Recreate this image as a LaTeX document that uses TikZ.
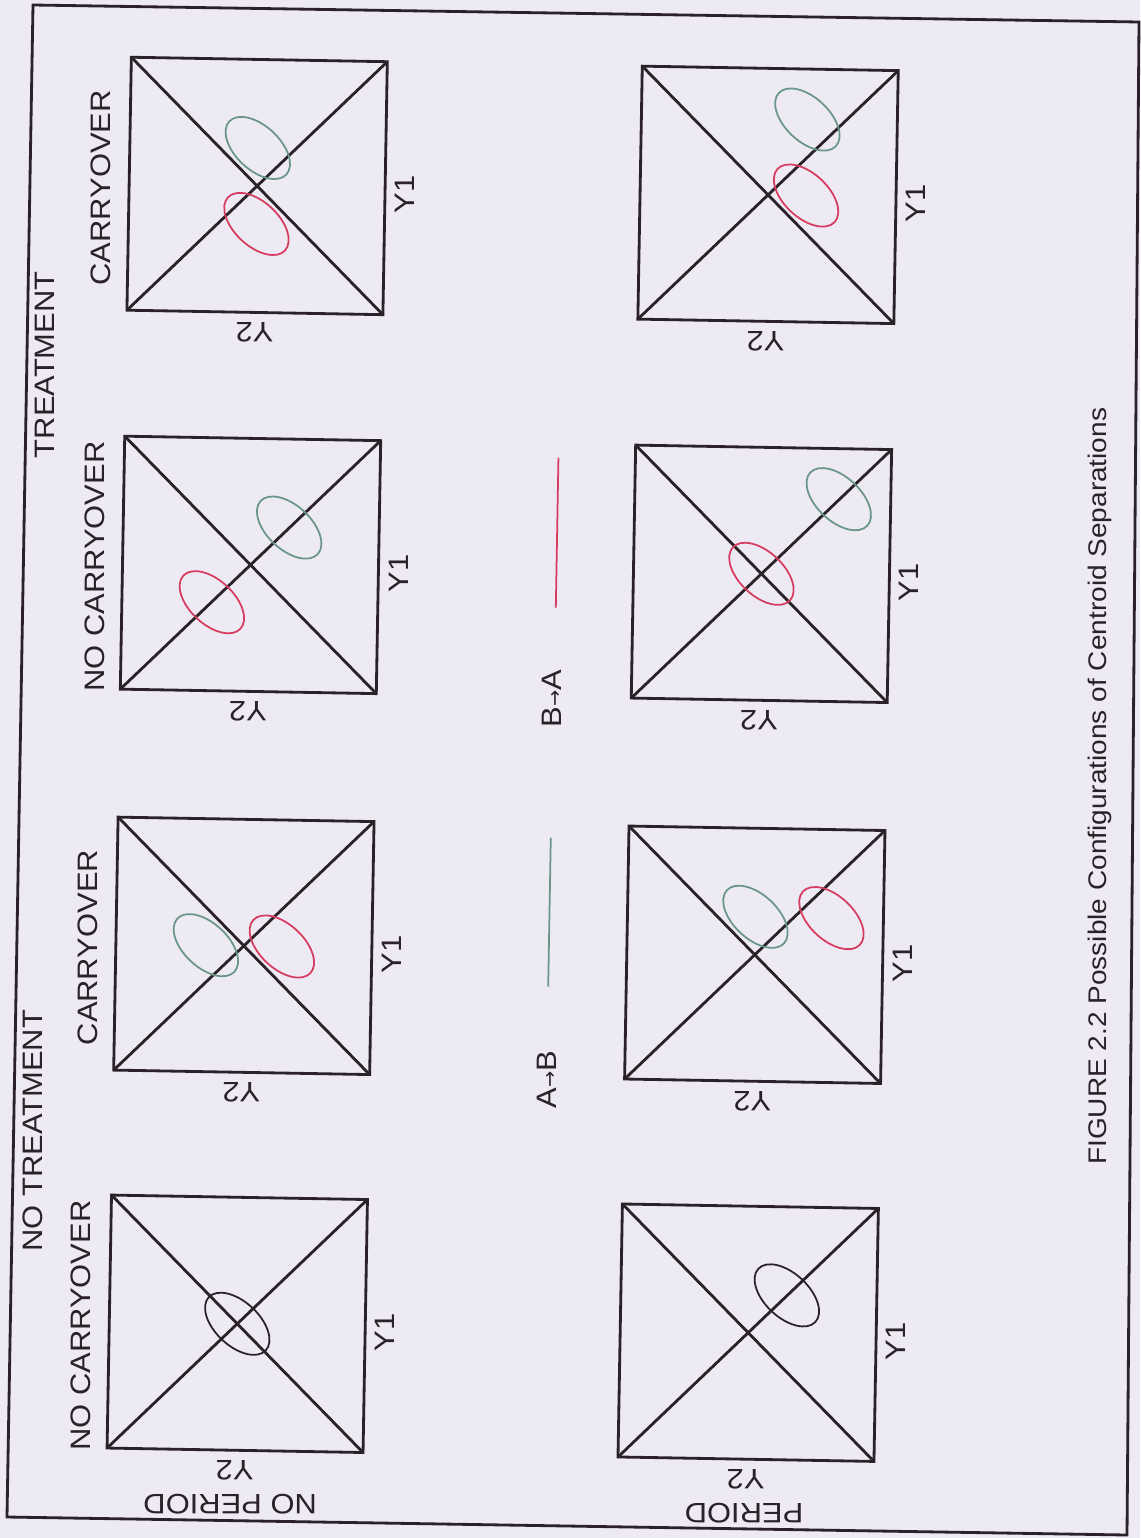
\documentclass[tikz,border=0pt]{standalone}
\usepackage{fontspec}
\usepackage{tikz}

\newfontfamily\lblfont[FakeStretch=1.1]{Liberation Sans}
\newfontfamily\arrowfont{DejaVu Sans}

\definecolor{ink}{RGB}{43,33,40}
\definecolor{paper}{RGB}{237,234,244}
\definecolor{grn}{RGB}{105,150,135}
\definecolor{rd}{RGB}{214,60,95}

\begin{document}
\begin{tikzpicture}[x=0.02cm, y=-0.02cm,
  panel/.style={draw=ink, line width=1.6pt},
  lbl/.style={font=\lblfont\fontsize{16}{18}\selectfont, text=ink, inner sep=0pt},
  cloud/.style={draw=#1, line width=1pt},
  key/.style={draw=#1, line width=1pt}]

% page and outer frame
\useasboundingbox[fill=paper] (0,0) rectangle (1140,1538);
\draw[ink, line width=1.6pt] (33,5) -- (1139,22) -- (1127,1535) -- (7,1517) -- cycle;

\begin{scope}[rotate around={-1:(570,769)}]

% parameters
\def\sw{256}
\def\sh{253}
\def\off{38}

% panels: square, diagonals, axis labels
\foreach \row/\x in {1/119, 2/630}
  \foreach \col/\y in {1/1203, 2/825, 3/444, 4/65} {
    \draw[panel] (\x,\y) rectangle ++(\sw,\sh);
    \draw[panel] (\x,\y) -- ++(\sw,\sh);
    \draw[panel] (\x,\y+\sh) -- ++(\sw,-\sh);
    \node[lbl, rotate=90] (yone\row\col) at (\x+\sw+20,\y+\sh/2+6) {Y1};
    \node[lbl, rotate=180] (ytwo\row\col) at (\x+\sw/2,\y+\sh+20) {Y2};
  }

% centroid ellipses (panel centre, offset in steps, colour)
\foreach \ex/\ey/\dx/\dy/\cc in {
    247/191.5/0/-1/grn, 247/191.5/0/1/rd,
    247/570.5/1/-1/grn, 247/570.5/-1/1/rd,
    247/951.5/-1/0/grn, 247/951.5/1/0/rd,
    247/1329.5/0/0/ink,
    758/191.5/1/-2/grn, 758/191.5/1/0/rd,
    758/570.5/2/-2/grn, 758/570.5/0/0/rd,
    758/951.5/0/-1/grn, 758/951.5/2/-1/rd,
    758/1329.5/1/-1/ink} {
  \pgfmathsetmacro\cx{\ex+\dx*\off}
  \pgfmathsetmacro\cy{\ey+\dy*\off}
  \draw[cloud=\cc, rotate around={-42:(\cx,\cy)}] (\cx,\cy) ellipse (39 and 22);
}

% column headings
\node[lbl, rotate=90] (nocarryA) at (91,1334) {NO CARRYOVER};
\node[lbl, rotate=90] (carryA) at (91,956) {CARRYOVER};
\node[lbl, rotate=90] (nocarryB) at (91,575) {NO CARRYOVER};
\node[lbl, rotate=90] (carryB) at (91,196) {CARRYOVER};
\node[lbl, rotate=90] (notreat) at (39,1140) {NO TREATMENT};
\node[lbl, rotate=90] (treat) at (38,374) {TREATMENT};

% row headings
\node[lbl, rotate=180] (noperiod) at (243,1510) {NO PERIOD};
\node[lbl, rotate=180] (period) at (757,1510) {PERIOD};

% legend
\node[lbl, rotate=90] (ab) at (552,1080) {A{\arrowfont\fontsize{11}{11}\selectfont →}B};
\coordinate (abA) at (552,987);
\coordinate (abB) at (552,838);
\draw[key=grn] (abA) -- (abB);
\node[lbl, rotate=90] (ba) at (551,699) {B{\arrowfont\fontsize{11}{11}\selectfont →}A};
\coordinate (baA) at (553,608);
\coordinate (baB) at (553,458);
\draw[key=rd] (baA) -- (baB);

% caption
\node[lbl, font=\lblfont\fontsize{14.5}{16}\selectfont, rotate=90] (cap) at (1100,777)
  {FIGURE 2.2 Possible Configurations of Centroid Separations};

\end{scope}

\end{tikzpicture}
\end{document}
